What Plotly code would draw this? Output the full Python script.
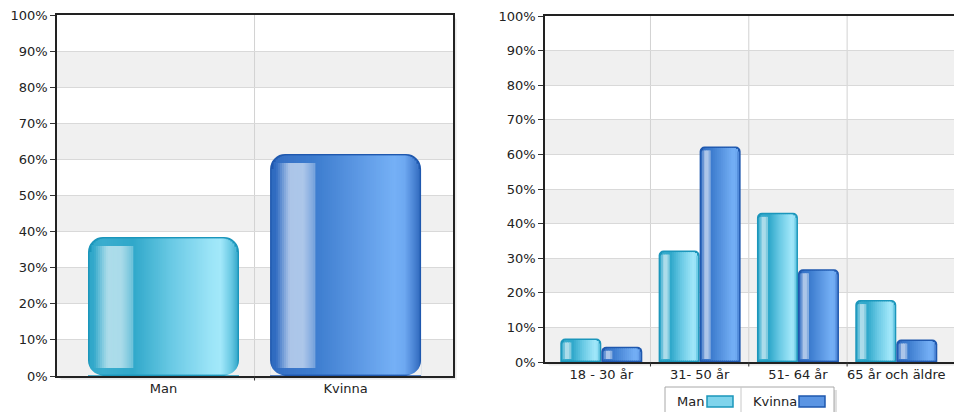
import math
import plotly.graph_objects as go

# ---------------- data ----------------
gender_categories = ["Man", "Kvinna"]
gender_share = [38.5, 61.5]

age_categories = ["18 - 30 år", "31- 50 år", "51- 64 år", "65 år och äldre"]
series_names = ["Man", "Kvinna"]
man_by_age = [6.8, 32.2, 43.1, 17.9]
kvinna_by_age = [4.4, 62.3, 26.8, 6.5]

y_tick_values = [0, 10, 20, 30, 40, 50, 60, 70, 80, 90, 100]
y_tick_labels = ["0%", "10%", "20%", "30%", "40%", "50%", "60%", "70%", "80%", "90%", "100%"]

# ---------------- style ----------------
W, H = 954, 412
FONT = "DejaVu Sans"
TXT = "#222222"
BAND = "#f0f0f0"

MAN_EDGE = "#1b96bb"
KVINNA_EDGE = "#1f58ae"
MAN_STOPS = [(0.0, "#2ea6c8"), (0.10, "#3badce"), (0.30, "#30a8ca"), (0.55, "#69c9e4"),
             (0.82, "#9de5f8"), (0.88, "#a2e8fa"), (0.95, "#68c8e3"), (1.0, "#2ca3c6")]
KVINNA_STOPS = [(0.0, "#2d69be"), (0.10, "#3873c7"), (0.30, "#3d7dcf"), (0.55, "#5995e1"),
                (0.82, "#75b0f6"), (0.89, "#6ea9f1"), (0.95, "#4d86d6"), (1.0, "#2c66ba")]

# panel geometry (pixels)
LP = dict(x0=57, x1=453, y0=15, y1=376, xr=(-0.585, 1.59), bar_px=151, r=15, b=1.5,
          strip_px=2.0, hl=(0.04, 0.13, 0.22, 0.30), hl_top=9, hl_bot=8)
RP = dict(x0=545, x1=954, y0=16, y1=362, xr=(-0.5726, 3.587), bar_px=41, r=5, b=1.5,
          strip_px=2.0, hl=(0.06, 0.12, 0.20, 0.27), hl_top=4, hl_bot=3)


def hx(c):
    c = c.lstrip("#")
    return [int(c[i:i + 2], 16) for i in (0, 2, 4)]


def interp_rgb(stops, t):
    for (t0, c0), (t1, c1) in zip(stops[:-1], stops[1:]):
        if t0 <= t <= t1:
            f = 0 if t1 == t0 else (t - t0) / (t1 - t0)
            a, b = hx(c0), hx(c1)
            return [a[i] + (b[i] - a[i]) * f for i in range(3)]
    return hx(stops[-1][1])


def rgb(c):
    return "rgb(%d,%d,%d)" % tuple(max(0, min(255, round(v))) for v in c)


def hl_alpha(hl, t):
    s, p0, p1, e = hl
    if t < s or t > e:
        return 0.0
    if t < p0:
        return 0.58 * (t - s) / (p0 - s)
    if t <= p1:
        return 0.58
    return 0.58 - 0.3 * (t - p1) / (e - p1)


def scales(P):
    sx = (P["x1"] - P["x0"]) / (P["xr"][1] - P["xr"][0])  # px per category unit
    sy = (P["y1"] - P["y0"]) / 100.0  # px per percent
    return sx, sy


def strips(P, cats, values, offset_u, stops_list, highlight=False):
    """gradient strips inside each bar (heights come from the data values)."""
    sx, sy = scales(P)
    Wb, b, r = P["bar_px"], P["b"], P["r"]
    ri = r - b
    if highlight:
        a_start, a_end = P["hl"][0] * Wb, P["hl"][3] * Wb
    else:
        a_start, a_end = b, Wb - b
    span = a_end - a_start
    n = max(1, int(round(span / P["strip_px"])))
    sw = span / n
    xs, ys, bases, offs, wids, cols = [], [], [], [], [], []
    for cat, v, stops in zip(cats, values, stops_list):
        for k in range(n):
            a = a_start + k * sw
            e = a + sw
            last = k == n - 1
            ext = 0 if last else 0.9  # overlap to hide seams
            t = (a + e) / 2 / Wb
            c = interp_rgb(stops, t)
            if highlight:
                top = v - P["hl_top"] / sy
                base = P["hl_bot"] / sy
                al = hl_alpha(P["hl"], t)
                c = [c[i] + (255 - c[i]) * al for i in range(3)]
            else:
                d = min(a - b, (Wb - b) - (e + ext))
                inset = b
                if d < ri:
                    inset = b + ri - math.sqrt(max(0.0, ri * ri - (ri - max(d, 0)) ** 2))
                top = v - inset / sy
                base = b / sy
            if top <= base:
                continue
            xs.append(cat)
            bases.append(base)
            ys.append(top - base)
            offs.append(offset_u + a / sx)
            wids.append((sw + ext) / sx)
            cols.append(rgb(c))
    return xs, ys, bases, offs, wids, cols


def strip_trace(data, xa, ya):
    xs, ys, bases, offs, wids, cols = data
    return go.Bar(x=xs, y=ys, base=bases, offset=offs, width=wids, xaxis=xa, yaxis=ya,
                  marker=dict(color=cols, line=dict(width=0)), showlegend=False,
                  hoverinfo="skip")


fig = go.Figure()

# ---------- left panel: gender share ----------
sxL, syL = scales(LP)
bwL = LP["bar_px"] / sxL
fig.add_trace(go.Bar(x=gender_categories, y=gender_share, name="Andel",
                     width=bwL, offset=-bwL / 2, xaxis="x", yaxis="y",
                     marker=dict(color=[MAN_EDGE, KVINNA_EDGE], cornerradius=LP["r"], line=dict(width=0)),
                     showlegend=False))
stopsL = [MAN_STOPS, KVINNA_STOPS]
fig.add_trace(strip_trace(strips(LP, gender_categories, gender_share, -bwL / 2, stopsL), "x", "y"))
fig.add_trace(strip_trace(strips(LP, gender_categories, gender_share, -bwL / 2, stopsL, True), "x", "y"))

# ---------- right panel: age groups ----------
sxR, syR = scales(RP)
bwR = RP["bar_px"] / sxR
for name, vals, edge, stops, off in [(series_names[0], man_by_age, MAN_EDGE, MAN_STOPS, -bwR),
                                     (series_names[1], kvinna_by_age, KVINNA_EDGE, KVINNA_STOPS, 0.0)]:
    fig.add_trace(go.Bar(x=age_categories, y=vals, name=name, width=bwR, offset=off,
                         xaxis="x2", yaxis="y2",
                         marker=dict(color=edge, cornerradius=RP["r"], line=dict(width=0)),
                         showlegend=False))
    st = [stops] * len(vals)
    fig.add_trace(strip_trace(strips(RP, age_categories, vals, off, st), "x2", "y2"))
    fig.add_trace(strip_trace(strips(RP, age_categories, vals, off, st, True), "x2", "y2"))


def px_x(p):
    return p / W


def px_y(p):
    return 1 - p / H


shapes = []
annotations = []

for P, xa, ya, cats in [(LP, "x", "y", gender_categories), (RP, "x2", "y2", age_categories)]:
    # soft drop shadow, then white plot face on top of it
    for off, col in [(4, "#f3f3f3"), (2.5, "#e2e2e2")]:
        shapes.append(dict(type="rect", xref="paper", yref="paper", layer="below",
                           x0=px_x(P["x0"] + off), x1=px_x(P["x1"] + off),
                           y0=px_y(P["y1"] + off), y1=px_y(P["y0"] + off),
                           fillcolor=col, line=dict(width=0)))
    shapes.append(dict(type="rect", xref="paper", yref="paper", layer="below",
                       x0=px_x(P["x0"]), x1=px_x(P["x1"]), y0=px_y(P["y1"]), y1=px_y(P["y0"]),
                       fillcolor="white", line=dict(width=0)))
    # alternating bands
    for i in range(0, len(y_tick_values) - 1, 2):
        shapes.append(dict(type="rect", xref=xa + " domain", yref=ya, layer="below",
                           x0=0, x1=1, y0=y_tick_values[i], y1=y_tick_values[i + 1],
                           fillcolor=BAND, line=dict(width=0)))
    # vertical grid lines + ticks at category boundaries
    ylen = P["y1"] - P["y0"]
    for i in range(len(cats) - 1):
        shapes.append(dict(type="line", xref=xa, yref=ya + " domain", layer="below",
                           x0=i + 0.5, x1=i + 0.5, y0=0, y1=1,
                           line=dict(color="#d2d2d2", width=1)))
        shapes.append(dict(type="line", xref=xa, yref=ya + " domain", layer="above",
                           x0=i + 0.5, x1=i + 0.5, y0=0, y1=-4.5 / ylen,
                           line=dict(color="#333333", width=1)))

# rounded bottom corners of the big gender bars (mask in band colour)
k = 0.5523
rx, ry, yb = LP["r"] / sxL, LP["r"] / syL, 0.8 / syL
for i in range(len(gender_categories)):
    xl, xr_ = i - bwL / 2, i + bwL / 2
    pl = "M %f,%f L %f,%f C %f,%f %f,%f %f,%f Z" % (
        xl, yb, xl, yb + ry, xl, yb + ry * (1 - k), xl + rx * (1 - k), yb, xl + rx, yb)
    pr = "M %f,%f L %f,%f C %f,%f %f,%f %f,%f Z" % (
        xr_, yb, xr_, yb + ry, xr_, yb + ry * (1 - k), xr_ - rx * (1 - k), yb, xr_ - rx, yb)
    for p in (pl, pr):
        shapes.append(dict(type="path", xref="x", yref="y", path=p, layer="above",
                           fillcolor=BAND, line=dict(width=0)))

# custom legend (text before swatch, as in the reference)
LEG = dict(x0=665, x1=834, y0=387, y1=430)
shapes.append(dict(type="rect", xref="paper", yref="paper", x0=px_x(LEG["x0"] + 3), x1=px_x(LEG["x1"] + 3),
                   y0=px_y(LEG["y1"]), y1=px_y(LEG["y0"] + 3), fillcolor="#e0e0e0", line=dict(width=0)))
shapes.append(dict(type="rect", xref="paper", yref="paper", x0=px_x(LEG["x0"]), x1=px_x(LEG["x1"]),
                   y0=px_y(LEG["y1"]), y1=px_y(LEG["y0"]), fillcolor="white",
                   line=dict(color="#a8a8a8", width=1)))
shapes.append(dict(type="line", xref="paper", yref="paper", x0=px_x(741), x1=px_x(741),
                   y0=px_y(LEG["y1"]), y1=px_y(LEG["y0"]), line=dict(color="#c8c8c8", width=1)))
legend_items = [(series_names[0], 675, 707, "#7fd4ec", MAN_EDGE),
                (series_names[1], 751, 799, "#5b95e3", KVINNA_EDGE)]
for name, tx, sx0, fill, edge in legend_items:
    annotations.append(dict(xref="paper", yref="paper", x=px_x(tx), y=px_y(401), text=name,
                            showarrow=False, xanchor="left", yanchor="middle",
                            font=dict(family=FONT, size=13, color=TXT)))
    shapes.append(dict(type="rect", xref="paper", yref="paper", x0=px_x(sx0), x1=px_x(sx0 + 26),
                       y0=px_y(407), y1=px_y(396), fillcolor=fill, line=dict(color=edge, width=1.5)))

axis_common = dict(showline=True, linecolor="#222222", linewidth=1.5, automargin=False)
yaxis_common = dict(range=[0, 100], tickvals=y_tick_values, ticktext=y_tick_labels,
                    ticks="outside", ticklen=5, tickcolor="#333333", tickwidth=1,
                    showgrid=True, gridcolor="#d9d9d9", gridwidth=1, zeroline=False,
                    tickfont=dict(family=FONT, size=13, color=TXT), fixedrange=True)
xaxis_common = dict(type="category", ticks="", showgrid=False, zeroline=False,
                    tickfont=dict(family=FONT, size=13, color=TXT), fixedrange=True)

fig.update_layout(
    width=W, height=H, autosize=False,
    margin=dict(l=0, r=0, t=0, b=0, pad=0, autoexpand=False),
    paper_bgcolor="white", plot_bgcolor="rgba(0,0,0,0)",
    barmode="overlay",
    showlegend=False,
    hovermode=False,
    font=dict(family=FONT, size=13, color=TXT),
    xaxis=dict(domain=[px_x(LP["x0"]), px_x(LP["x1"])], anchor="y", range=list(LP["xr"]),
               categoryorder="array", categoryarray=gender_categories, mirror=True,
               **axis_common, **xaxis_common),
    yaxis=dict(domain=[px_y(LP["y1"]), px_y(LP["y0"])], anchor="x", mirror=True,
               **axis_common, **yaxis_common),
    xaxis2=dict(domain=[px_x(RP["x0"]), px_x(RP["x1"])], anchor="y2", range=list(RP["xr"]),
                categoryorder="array", categoryarray=age_categories, mirror=True,
                **axis_common, **xaxis_common),
    yaxis2=dict(domain=[px_y(RP["y1"]), px_y(RP["y0"])], anchor="x2", mirror=False,
                **axis_common, **yaxis_common),
    shapes=shapes,
    annotations=annotations,
)

fig.write_html("out.html", config=dict(displayModeBar=False, responsive=False),
               post_script="document.documentElement.style.margin='0px';document.body.style.margin='0px';document.body.style.overflow='hidden';")
